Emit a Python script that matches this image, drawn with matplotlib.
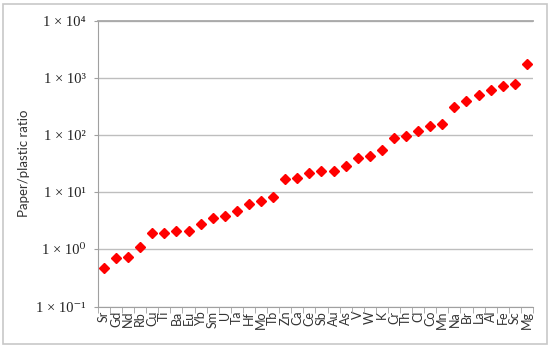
import matplotlib
matplotlib.use("Agg")
import matplotlib.pyplot as plt
import matplotlib.patches as patches
from matplotlib.ticker import FixedLocator, FuncFormatter

elements = ['Sr', 'Gd', 'Nd', 'Rb', 'Cu', 'Ti', 'Ba', 'Eu', 'Yb', 'Sm', 'U', 'Ta',
            'Hf', 'Mo', 'Tb', 'Zn', 'Ca', 'Ce', 'Sb', 'Au', 'As', 'V', 'W', 'K',
            'Cr', 'Th', 'Cl', 'Co', 'Mn', 'Na', 'Br', 'La', 'Al', 'Fe', 'Sc', 'Mg']
ratios = [0.47, 0.72, 0.73, 1.08, 1.96, 1.96, 2.08, 2.12, 2.76, 3.5, 3.87, 4.6,
          6.3, 6.9, 8.1, 17.0, 17.5, 21.9, 23.1, 23.8, 29, 40, 43.4, 55,
          87, 97, 115, 143, 157, 309, 389, 496, 604, 710, 771, 1740]
y_ticks = [0.1, 1, 10, 100, 1000, 10000]
y_labels = ['1 × 10⁻¹', '1 × 10⁰', '1 × 10¹', '1 × 10²', '1 × 10³', '1 × 10⁴']

fig = plt.figure(figsize=(5.5, 3.48), dpi=100)
ax = fig.add_axes([0.178, 0.119, 0.791, 0.822])

# light frame round the whole figure
frame = patches.Rectangle((0.006, 0.012), 0.988, 0.976, transform=fig.transFigure,
                          facecolor='none', edgecolor='#c8c8c8', linewidth=1.2)
fig.patches.append(frame)

x = list(range(len(elements)))
ax.plot(x, ratios, linestyle='none', marker='D', markersize=5.5,
        color='#ff0000', markeredgecolor='#ff0000', zorder=3)

ax.set_yscale('log')
ax.set_ylim(0.1, 10000)
ax.set_xlim(-0.5, len(elements) - 0.5)

ax.yaxis.set_major_locator(FixedLocator(y_ticks))
ax.yaxis.set_minor_locator(FixedLocator([]))
labels = dict(zip(y_ticks, y_labels))
ax.yaxis.set_major_formatter(FuncFormatter(lambda v, p: labels.get(v, '')))
for t in ax.get_yticklabels():
    t.set_fontfamily(['Liberation Serif', 'DejaVu Serif'])
ax.tick_params(axis='y', labelsize=10.5, length=3, color='#a0a0a0', labelcolor='#222222', pad=6)
ax.grid(axis='y', color='#bebebe', linewidth=1)
ax.set_axisbelow(True)

ax.set_xticks(x)
ax.set_xticklabels(elements, rotation=90, fontsize=9, color='#333333', family='Lato')
ax.set_xticks([i - 0.5 for i in range(len(elements) + 1)], minor=True)
ax.tick_params(axis='x', which='major', length=0, pad=3)
ax.tick_params(axis='x', which='minor', length=4, color='#a0a0a0')

# the 10^4 gridline sits on the top edge, so let the top spine stand in for it
ax.spines['right'].set_visible(False)
ax.spines['top'].set_color('#a8a8a8')
ax.spines['top'].set_linewidth(1.3)
for s in ['left', 'bottom']:
    ax.spines[s].set_color('#a0a0a0')

ax.set_ylabel('Paper/plastic ratio', fontsize=9.5, color='#333333', family='Lato', labelpad=4)

fig.savefig('out.png', dpi=100)
